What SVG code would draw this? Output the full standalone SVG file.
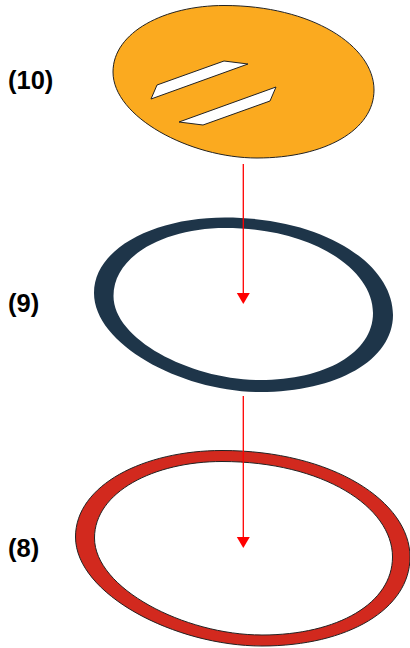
<svg xmlns="http://www.w3.org/2000/svg" width="410" height="648" viewBox="0 0 410 648">
<style>
.lbl{font-family:"Liberation Sans",Arial,sans-serif;font-weight:bold;font-size:25.500px;fill:#000}
.part{stroke:#222;stroke-width:1;fill-rule:evenodd}
.arrow{stroke:#f00;stroke-width:1.300;fill:none}
.tip{fill:#f00}
</style>
<rect width="410" height="648" fill="#fff"/>
<g id="part-10">
<path class="part" fill="#fbaa1f" d="M113,72C113,32 165,5.500 224,5.500C312,5.500 374,46 374,90C374,130 325,158 257,158C190,158 113,117 113,72ZM224,61L248,64L151,99L157,85ZM276,87L270,101L203,125L179,122Z"/>
<text class="lbl" x="8" y="89">(10)</text>
</g>
<g id="part-9">
<path fill="#1e3549" fill-rule="evenodd" d="M94,293C94,248 155,217.500 225,217.500C324,217.500 393,264 393,315C393,360 337,392 260,392C183,392 94,345 94,293ZM113.500,296C113.500,340 192,380 260,380C325,380 373,353 373,313C373,269 312,228 225,228C166,228 113.500,255 113.500,296Z"/>
<text class="lbl" x="8" y="312">(9)</text>
</g>
<g id="part-8">
<path class="part" fill="#d2291e" d="M75.500,537C75.500,485 144,450.500 222,450.500C333,450.500 410,502 410,557C410,609 348,646 262,646C175,646 75.500,594 75.500,537ZM94.500,538C94.500,588 184,635 262,635C338,635 392.500,603 392.500,557C392.500,507 323,461.500 222,461.500C154,461.500 94.500,492 94.500,538Z"/>
<text class="lbl" x="8" y="557">(8)</text>
</g>
<g id="connectors">
<path class="arrow" d="M243.300,164V294"/>
<path class="tip" d="M236.800,293H249.800L243.300,304Z"/>
<path class="arrow" d="M243.300,396V538"/>
<path class="tip" d="M236.800,537H249.800L243.300,548Z"/>
</g>
</svg>
